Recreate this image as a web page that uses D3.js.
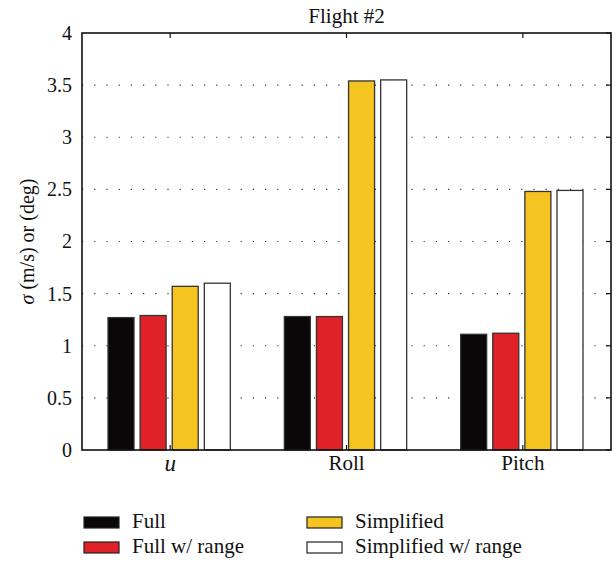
<!DOCTYPE html>
<html>
<head>
<meta charset="utf-8">
<script src="https://cdn.jsdelivr.net/npm/d3@7"></script>
<style>
  body { margin: 0; background: #fff; }
  svg text { font-family: "Liberation Serif", "DejaVu Serif", serif; fill: #111; }
</style>
</head>
<body>
<svg id="chart" width="616" height="563"></svg>
<script>
// data
var categories = ["u", "Roll", "Pitch"];
var seriesNames = ["Full", "Full w/ range", "Simplified", "Simplified w/ range"];
var full = [1.27, 1.28, 1.11];
var fullRange = [1.29, 1.28, 1.12];
var simplified = [1.57, 3.54, 2.48];
var simplifiedRange = [1.60, 3.55, 2.49];
var yTicks = [0, 0.5, 1, 1.5, 2, 2.5, 3, 3.5, 4];
var colors = ["#0b0708", "#e02128", "#f5c421", "#ffffff"];

var series = [full, fullRange, simplified, simplifiedRange];

var svg = d3.select("#chart"),
  margin = {top: 33, right: 5, bottom: 113, left: 82},
  width = 616 - margin.left - margin.right,
  height = 563 - margin.top - margin.bottom,
  g = svg.append("g").attr("transform", "translate(" + margin.left + "," + margin.top + ")");

var x = d3.scaleBand().domain(categories).range([0, width]).padding(0);
var xInner = d3.scaleBand().domain(d3.range(series.length)).range([26, x.bandwidth() - 28]).paddingInner(0.19);
var y = d3.scaleLinear().domain([0, 4]).range([height, 0]);

// dotted grid
g.append("g")
  .selectAll("line")
  .data(yTicks.filter(function(d) { return d > 0 && d < 4; }))
  .enter().append("line")
  .attr("x1", 0).attr("x2", width)
  .attr("y1", function(d) { return y(d); })
  .attr("y2", function(d) { return y(d); })
  .attr("stroke", "#333")
  .attr("stroke-width", 1.2)
  .attr("stroke-dasharray", "1.2,11");

// bars
var groups = g.selectAll(".grp")
  .data(categories)
  .enter().append("g")
  .attr("class", "grp")
  .attr("transform", function(d) { return "translate(" + x(d) + ",0)"; });

groups.selectAll("rect")
  .data(function(d, i) { return series.map(function(s, k) { return {k: k, v: s[i]}; }); })
  .enter().append("rect")
  .attr("x", function(d) { return xInner(d.k); })
  .attr("width", xInner.bandwidth())
  .attr("y", function(d) { return y(d.v); })
  .attr("height", function(d) { return height - y(d.v); })
  .attr("fill", function(d) { return colors[d.k]; })
  .attr("stroke", "#333")
  .attr("stroke-width", 1.3);

// axes with inward ticks
var yAxis = g.append("g")
  .call(d3.axisLeft(y).tickValues(yTicks).tickSize(0).tickPadding(10).tickFormat(d3.format("")));
yAxis.select(".domain").remove();
yAxis.selectAll("text").style("font-size", "20px").style("font-family", "Liberation Serif, serif");

var xAxis = g.append("g")
  .attr("transform", "translate(0," + height + ")")
  .call(d3.axisBottom(x).tickSize(0).tickPadding(5));
xAxis.select(".domain").remove();
xAxis.selectAll("text")
  .style("font-family", "Liberation Serif, serif")
  .style("font-style", function(d) { return d === "u" ? "italic" : null; })
  .style("font-size", function(d) { return d === "u" ? "23px" : "21px"; });

// tick marks inside the frame
var ticks = g.append("g").attr("stroke", "#111").attr("stroke-width", 1.2);
yTicks.forEach(function(t) {
  ticks.append("line").attr("x1", width).attr("x2", width - 5).attr("y1", y(t)).attr("y2", y(t));
});
categories.forEach(function(c) {
  var cx = x(c) + x.bandwidth() / 2;
  ticks.append("line").attr("x1", cx).attr("x2", cx).attr("y1", 0).attr("y2", 5);
  ticks.append("line").attr("x1", cx).attr("x2", cx).attr("y1", height).attr("y2", height - 5);
});

// frame
g.append("rect")
  .attr("width", width).attr("height", height)
  .attr("fill", "none").attr("stroke", "#111").attr("stroke-width", 1.6);

// title
svg.append("text")
  .attr("x", margin.left + width / 2)
  .attr("y", 23)
  .attr("text-anchor", "middle")
  .style("font-size", "21px")
  .text("Flight #2");

// y label
svg.append("text")
  .attr("transform", "translate(34," + (margin.top + height / 2) + ") rotate(-90)")
  .attr("text-anchor", "middle")
  .style("font-size", "20px")
  .html('<tspan font-style="italic">σ</tspan> (m/s) or (deg)');

// legend
var legend = svg.append("g");
var legendPos = [[84, 517], [84, 542], [307, 517], [307, 542]];
seriesNames.forEach(function(name, k) {
  var p = legendPos[k];
  legend.append("rect")
    .attr("x", p[0]).attr("y", p[1])
    .attr("width", 35).attr("height", 11)
    .attr("fill", colors[k])
    .attr("stroke", "#222").attr("stroke-width", 1.2);
  legend.append("text")
    .attr("x", p[0] + 48).attr("y", p[1] + 11)
    .style("font-size", "21px")
    .text(name);
});
</script>
</body>
</html>
